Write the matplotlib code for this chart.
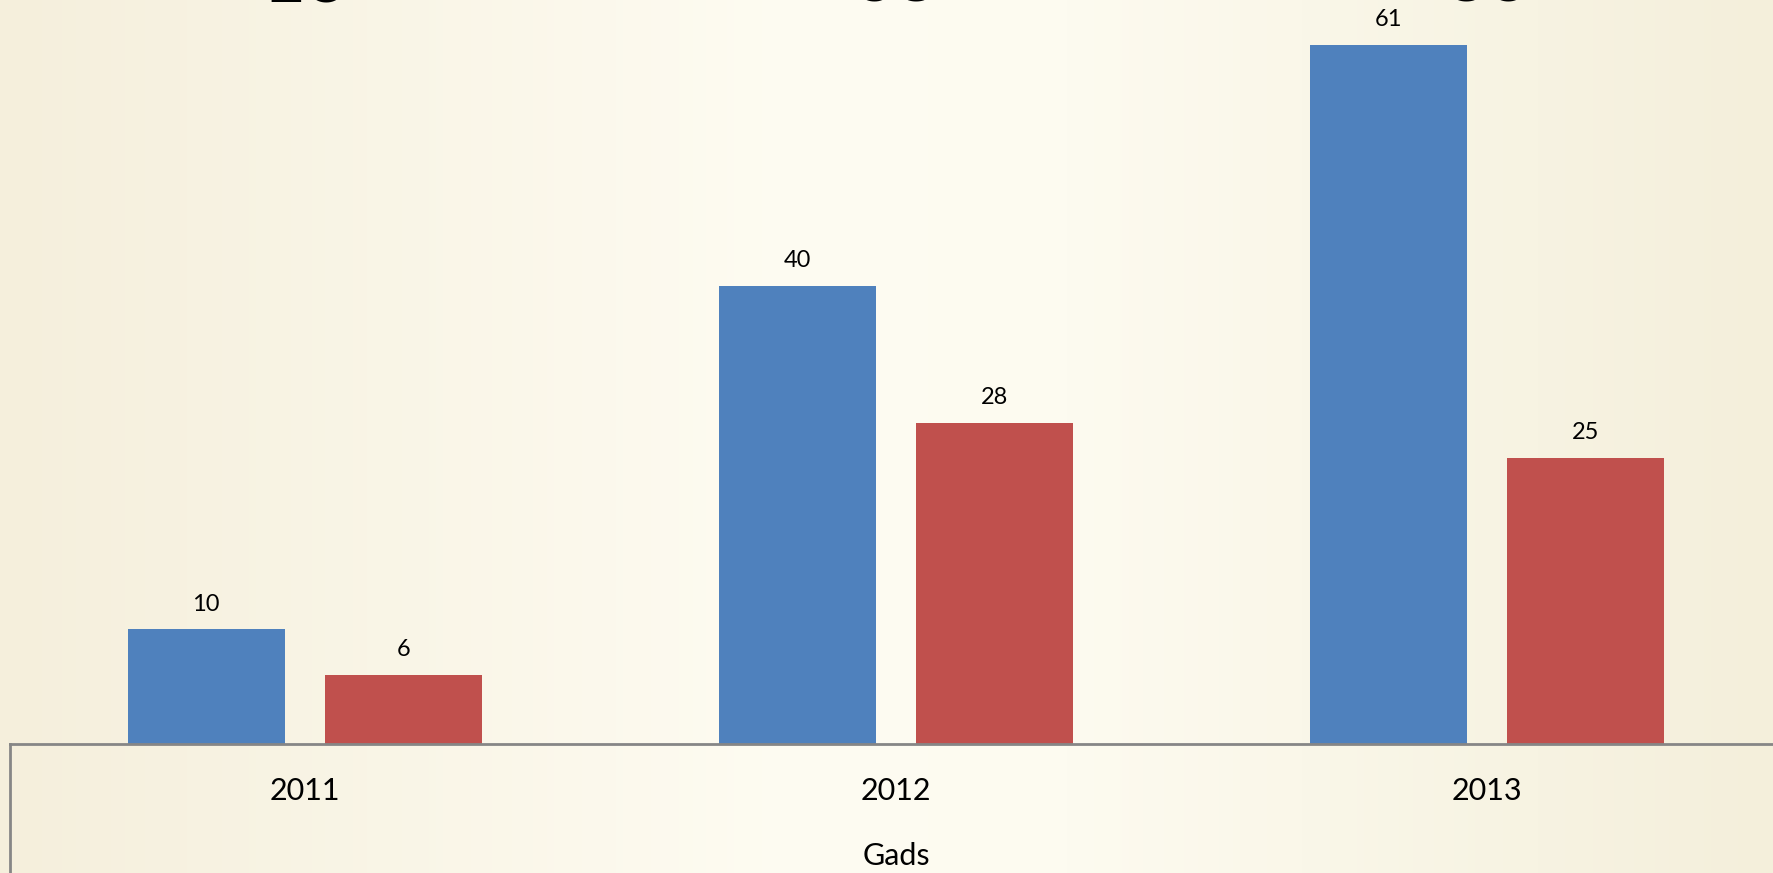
import matplotlib.pyplot as plt
import numpy as np
from matplotlib.lines import Line2D
from matplotlib.colors import LinearSegmentedColormap
from matplotlib import transforms

# Data
years = ['2011', '2012', '2013']
series_a = [10, 40, 61]
series_b = [6, 28, 25]
totals = ['16', '68', '86']
axis_title = 'Gads'

BLUE = '#4F81BD'
RED = '#C0504D'
FONT = ['Lato', 'DejaVu Sans']

plt.rcParams['font.family'] = FONT

W, H = 1773, 873
fig = plt.figure(figsize=(W / 100, H / 100), dpi=100)

# --- cream background, lighter in the middle ---
bg = fig.add_axes([0, 0, 1, 1], zorder=-10)
cmap = LinearSegmentedColormap.from_list(
    'cream', [(0.0, '#F5EFDC'), (0.45, '#FEFCF2'), (0.6, '#FDFBF0'), (1.0, '#F4EFDB')])
bg.imshow(np.linspace(0, 1, 256)[None, :], aspect='auto', cmap=cmap,
          extent=[0, 1, 0, 1])
bg.axis('off')

# --- chart axes (runs slightly past the right edge, as in the reference) ---
left_px = 9.5
base_px = 744
ax = fig.add_axes([left_px / W, (H - base_px) / H, 1.0, base_px / H])
ax.patch.set_alpha(0)

x = np.arange(len(years))
bw = 0.2657
off = 0.1672
bars_a = ax.bar(x - off, series_a, bw, color=BLUE, zorder=2)
bars_b = ax.bar(x + off, series_b, bw, color=RED, zorder=2)

ax.set_xlim(-0.5, 2.5)
ax.set_ylim(0, base_px / 11.46)

for bars in (bars_a, bars_b):
    for b in bars:
        ax.annotate(f'{b.get_height():g}', (b.get_x() + b.get_width() / 2, b.get_height()),
                    xytext=(0, 13.5), textcoords='offset points',
                    ha='center', va='baseline', fontsize=17, color='black')

for s in ['top', 'right', 'left']:
    ax.spines[s].set_visible(False)
ax.spines['bottom'].set_color('#868686')
ax.spines['bottom'].set_linewidth(2)
ax.set_xticks([])
ax.set_yticks([])

# category labels and axis title below the axis line
trans = transforms.blended_transform_factory(ax.transData, fig.transFigure)
for i, yr in enumerate(years):
    ax.text(i, (H - 800) / H, yr, transform=trans, ha='center', va='baseline',
            fontsize=22, color='black', clip_on=False)
ax.text(1, (H - 865) / H, axis_title, transform=trans, ha='center', va='baseline',
        fontsize=22, color='black', clip_on=False)

# left edge of the category box
fig.add_artist(Line2D([left_px / W, left_px / W], [0, (H - base_px) / H],
                      color='#868686', linewidth=2, transform=fig.transFigure))

# large total labels, mostly cut off at the top (only their bottoms show)
for i, t in enumerate(totals):
    ax.text(i, (H - 1) / H, t, transform=trans, ha='center', va='baseline',
            fontsize=53, fontweight='bold', color='black', clip_on=False)

fig.savefig('out.png', dpi=100)
